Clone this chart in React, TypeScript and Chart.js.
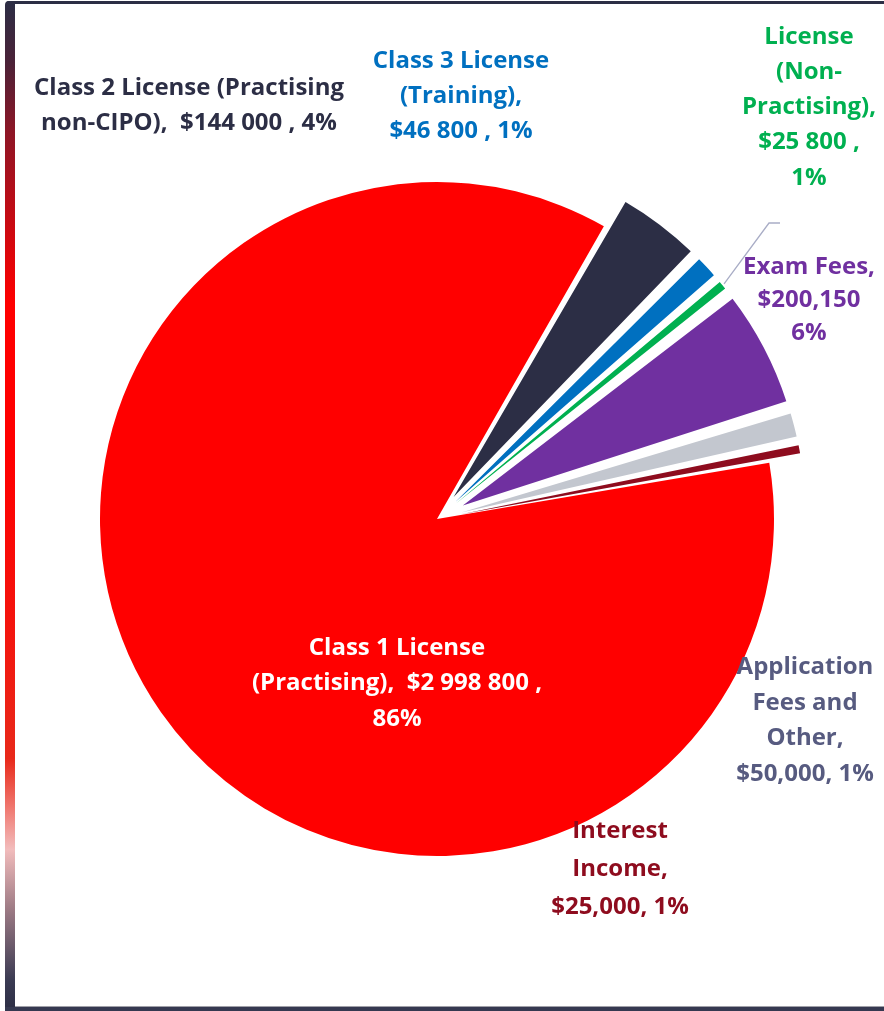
import React, { useEffect, useRef } from "react";
import { Chart, registerables } from "chart.js";

Chart.register(...registerables);

// ---------- data ----------
const categories = [
  "Class 1 License (Practising)",
  "Class 2 License (Practising non-CIPO)",
  "Class 3 License (Training)",
  "License (Non-Practising)",
  "Exam Fees",
  "Application Fees and Other",
  "Interest Income",
];
const revenue = [2998800, 144000, 46800, 25800, 200150, 50000, 25000];

const labelLines = [
  ["Class 1 License", "(Practising),  $2 998 800 ,", "86%"],
  ["Class 2 License (Practising", "non-CIPO),  $144 000 , 4%"],
  ["Class 3 License", "(Training),", "$46 800 , 1%"],
  ["License", "(Non-", "Practising),", "$25 800 ,", "1%"],
  ["Exam Fees,", "$200,150", "6%"],
  ["Application", "Fees and", "Other,", "$50,000, 1%"],
  ["Interest", "Income,", "$25,000, 1%"],
];

// ---------- styles ----------
const sliceColors = ["#ff0000", "#2c2e45", "#0070c0", "#00b050", "#7030a0", "#c3c7cf", "#8e0c1e"];
const labelColors = ["#ffffff", "#2c2e45", "#0070c0", "#00b050", "#7030a0", "#575b80", "#8e0c1e"];
// [centerX, firstLineY, lineHeight]
const labelAnchors = [
  [397, 648, 35.5],
  [189, 88, 35],
  [461, 61, 35],
  [809, 37, 35.2],
  [809, 267, 33],
  [805, 667, 35.7],
  [620, 831, 38],
];
const leaderBend = [[769, 223], [780, 223]];

const W = 884;
const H = 1011;
const R_MAIN = 337;
const R_EXPLODED = 321;
const EXPLODE = 48;
const ROTATION = 80.4;
const FONT = "bold 24px 'Open Sans', sans-serif";

const total = revenue.reduce((a, b) => a + b, 0);
// Chart.js translates an arc by offset/4 * (2 - sin(circumference))
const explodeOffsets = revenue.map((v, i) => {
  if (i === 0) return 0;
  const c = (v / total) * Math.PI * 2;
  return (4 * EXPLODE) / (2 - Math.sin(Math.min(Math.PI, c)));
});

const transparent = "rgba(0,0,0,0)";

const labelPlugin = {
  id: "sliceLabels",
  afterDraw(chart: any) {
    const ctx = chart.ctx;
    ctx.save();
    // leader line for the green slice
    const arc = chart.getDatasetMeta(0).data[3];
    if (arc) {
      const p = arc.getProps(["x", "y", "startAngle", "endAngle", "outerRadius"], true);
      const mid = (p.startAngle + p.endAngle) / 2;
      const circ = p.endAngle - p.startAngle;
      const off = (arc.options.offset || 0) / 4;
      const t = off * (2 - Math.sin(Math.min(Math.PI, circ)));
      const sx = p.x + Math.cos(mid) * (t + p.outerRadius + 2);
      const sy = p.y + Math.sin(mid) * (t + p.outerRadius + 2);
      ctx.strokeStyle = "#a9adc6";
      ctx.lineWidth = 1.3;
      ctx.beginPath();
      ctx.moveTo(sx, sy);
      ctx.lineTo(leaderBend[0][0], leaderBend[0][1]);
      ctx.lineTo(leaderBend[1][0], leaderBend[1][1]);
      ctx.stroke();
    }
    ctx.font = FONT;
    ctx.textAlign = "center";
    ctx.textBaseline = "middle";
    labelLines.forEach((lines, i) => {
      const [x, y0, lh] = labelAnchors[i];
      ctx.fillStyle = labelColors[i];
      lines.forEach((line, j) => {
        ctx.fillText(line, x, y0 + j * lh);
      });
    });
    ctx.restore();
  },
};

function makeConfig(main: boolean): any {
  return {
    type: "pie",
    data: {
      labels: categories,
      datasets: [
        {
          data: revenue,
          backgroundColor: sliceColors.map((c, i) => (main ? (i === 0 ? c : transparent) : i === 0 ? transparent : c)),
          borderWidth: 0,
          offset: main ? 0 : explodeOffsets,
          hoverOffset: 0,
        },
      ],
    },
    options: {
      responsive: false,
      animation: false,
      radius: main ? R_MAIN : R_EXPLODED,
      rotation: ROTATION,
      layout: { padding: { left: 0, right: 10, top: 27, bottom: 0 } },
      events: [],
      plugins: {
        legend: { display: false },
        tooltip: { enabled: false },
        title: { display: false },
      },
    },
    plugins: main ? [] : [labelPlugin],
  };
}

export default function App() {
  const mainRef = useRef<HTMLCanvasElement>(null);
  const restRef = useRef<HTMLCanvasElement>(null);

  useEffect(() => {
    const a = new Chart(mainRef.current as HTMLCanvasElement, makeConfig(true));
    const b = new Chart(restRef.current as HTMLCanvasElement, makeConfig(false));
    return () => {
      a.destroy();
      b.destroy();
    };
  }, []);

  const canvasStyle: React.CSSProperties = { position: "absolute", left: 0, top: 0, width: W, height: H };

  return (
    <div style={{ position: "fixed", left: 0, top: 0, width: W, height: H, background: "#ffffff", overflow: "hidden" }}>
      <div
        style={{
          position: "absolute",
          left: 6,
          top: 1,
          width: W - 6,
          height: 3,
          background: "#2c2e45",
          borderTopLeftRadius: 4,
        }}
      />
      <div
        style={{
          position: "absolute",
          left: 5,
          top: 1,
          width: 10,
          height: H - 1,
          borderTopLeftRadius: 4,
          background:
            "linear-gradient(to bottom, #2c2e45 0%, #4a2238 6%, #8e1626 13%, #c80a12 22%, #ff0000 30%, #ff0000 45%, #f5120c 60%, #e8291a 75%, #f07a72 80%, #f2bcbc 84%, #9c7a84 90%, #3a3a52 97%, #2c2e45 100%)",
        }}
      />
      <div style={{ position: "absolute", left: 15, top: 1006, width: W - 15, height: 1, background: "#a0a0a8" }} />
      <div style={{ position: "absolute", left: 5, top: 1007, width: W - 5, height: 4, background: "#353850" }} />
      <canvas ref={mainRef} width={W} height={H} style={canvasStyle} />
      <canvas ref={restRef} width={W} height={H} style={canvasStyle} />
    </div>
  );
}
